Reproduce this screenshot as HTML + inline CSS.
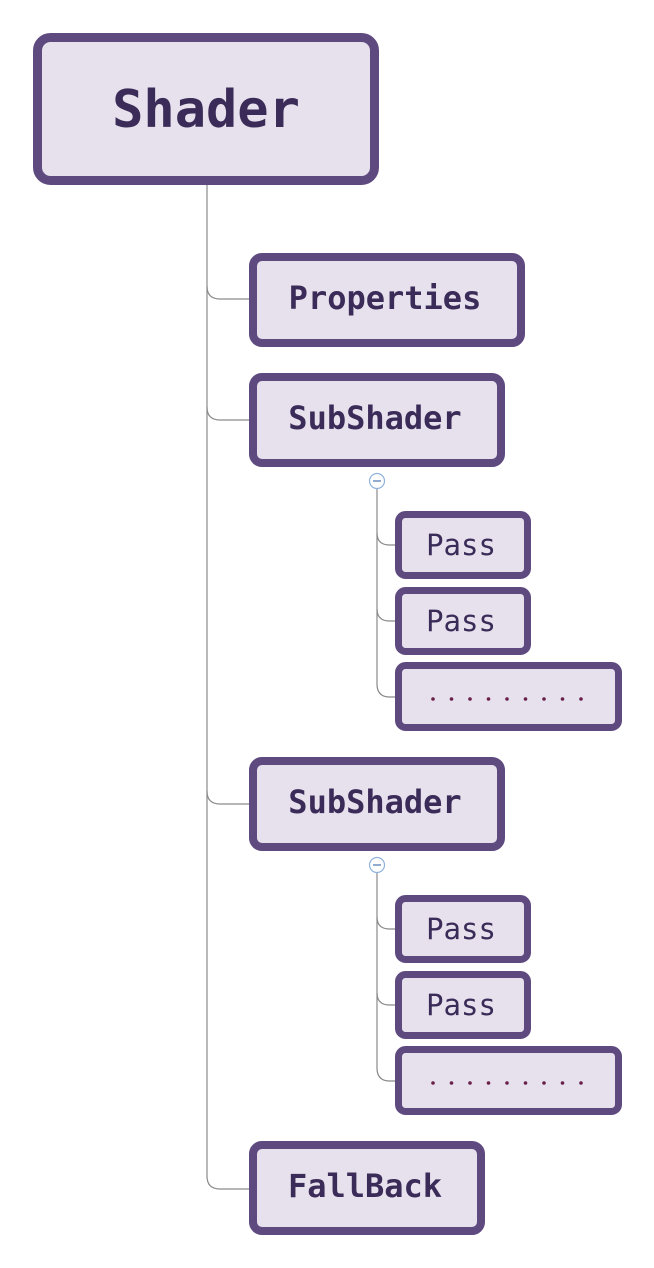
<!DOCTYPE html>
<html><head><meta charset="utf-8"><style>
html,body{margin:0;padding:0;background:#fff;}
svg{display:block}
text{font-family:"DejaVu Sans Mono","Liberation Mono",monospace;fill:#3b2b58;}
.b{font-weight:bold}
</style></head><body>
<svg width="654" height="1268" viewBox="0 0 654 1268" xmlns="http://www.w3.org/2000/svg">
<g fill="none" stroke="#8a8a8a" stroke-width="1.2">
<path d="M207 185 V1176 Q207 1189 220 1189 H250"/>
<path d="M207 286 Q207 299 220 299 H250"/>
<path d="M207 407 Q207 420 220 420 H250"/>
<path d="M207 791 Q207 804 220 804 H250"/>
<path d="M377 489 V684 Q377 697 390 697 H396"/>
<path d="M377 533 Q377 545 390 545 H396"/>
<path d="M377 609 Q377 621 390 621 H396"/>
<path d="M377 873 V1068 Q377 1081 390 1081 H396"/>
<path d="M377 917 Q377 929 390 929 H396"/>
<path d="M377 993 Q377 1005 390 1005 H396"/>
</g>
<g fill="#fff" stroke="#8fb3e0" stroke-width="1.2">
<circle cx="377" cy="481" r="7.5"/><circle cx="377" cy="865" r="7.5"/>
</g>
<g stroke="#6f8fc0" stroke-width="1.4"><path d="M373 481H381M373 865H381"/></g>
<g fill="#e6e1ec" stroke="#5e4a7f">
<rect x="37.5" y="37.5" width="337" height="143" rx="13" stroke-width="9"/>
<rect x="253" y="257" width="268" height="86" rx="9" stroke-width="8"/>
<rect x="253" y="377" width="248" height="86" rx="9" stroke-width="8"/>
<rect x="253" y="761" width="248" height="86" rx="9" stroke-width="8"/>
<rect x="253" y="1145" width="228" height="86" rx="9" stroke-width="8"/>
<rect x="398.5" y="514.5" width="129" height="61" rx="7" stroke-width="7"/>
<rect x="398.5" y="590.5" width="129" height="61" rx="7" stroke-width="7"/>
<rect x="398.5" y="665.5" width="220" height="62" rx="7" stroke-width="7"/>
<rect x="398.5" y="898.5" width="129" height="61" rx="7" stroke-width="7"/>
<rect x="398.5" y="974.5" width="129" height="61" rx="7" stroke-width="7"/>
<rect x="398.5" y="1049.5" width="220" height="62" rx="7" stroke-width="7"/>
</g>
<text class="b" x="206" y="127" font-size="52" text-anchor="middle">Shader</text>
<text class="b" x="385" y="309" font-size="32" text-anchor="middle">Properties</text>
<text class="b" x="375" y="429" font-size="32" text-anchor="middle">SubShader</text>
<text class="b" x="375" y="813" font-size="32" text-anchor="middle">SubShader</text>
<text class="b" x="365" y="1197" font-size="32" text-anchor="middle">FallBack</text>
<text x="461" y="555" font-size="29" text-anchor="middle">Pass</text>
<text x="461" y="631" font-size="29" text-anchor="middle">Pass</text>
<text x="461" y="939" font-size="29" text-anchor="middle">Pass</text>
<text x="461" y="1015" font-size="29" text-anchor="middle">Pass</text>
<g fill="#6a1e4a">
<circle cx="433" cy="699" r="1.8"/><circle cx="451.5" cy="699" r="1.8"/><circle cx="470" cy="699" r="1.8"/><circle cx="488.5" cy="699" r="1.8"/><circle cx="507" cy="699" r="1.8"/><circle cx="525.5" cy="699" r="1.8"/><circle cx="544" cy="699" r="1.8"/><circle cx="562.5" cy="699" r="1.8"/><circle cx="581" cy="699" r="1.8"/>
<circle cx="433" cy="1083" r="1.8"/><circle cx="451.5" cy="1083" r="1.8"/><circle cx="470" cy="1083" r="1.8"/><circle cx="488.5" cy="1083" r="1.8"/><circle cx="507" cy="1083" r="1.8"/><circle cx="525.5" cy="1083" r="1.8"/><circle cx="544" cy="1083" r="1.8"/><circle cx="562.5" cy="1083" r="1.8"/><circle cx="581" cy="1083" r="1.8"/>
</g>
</svg>
</body></html>
